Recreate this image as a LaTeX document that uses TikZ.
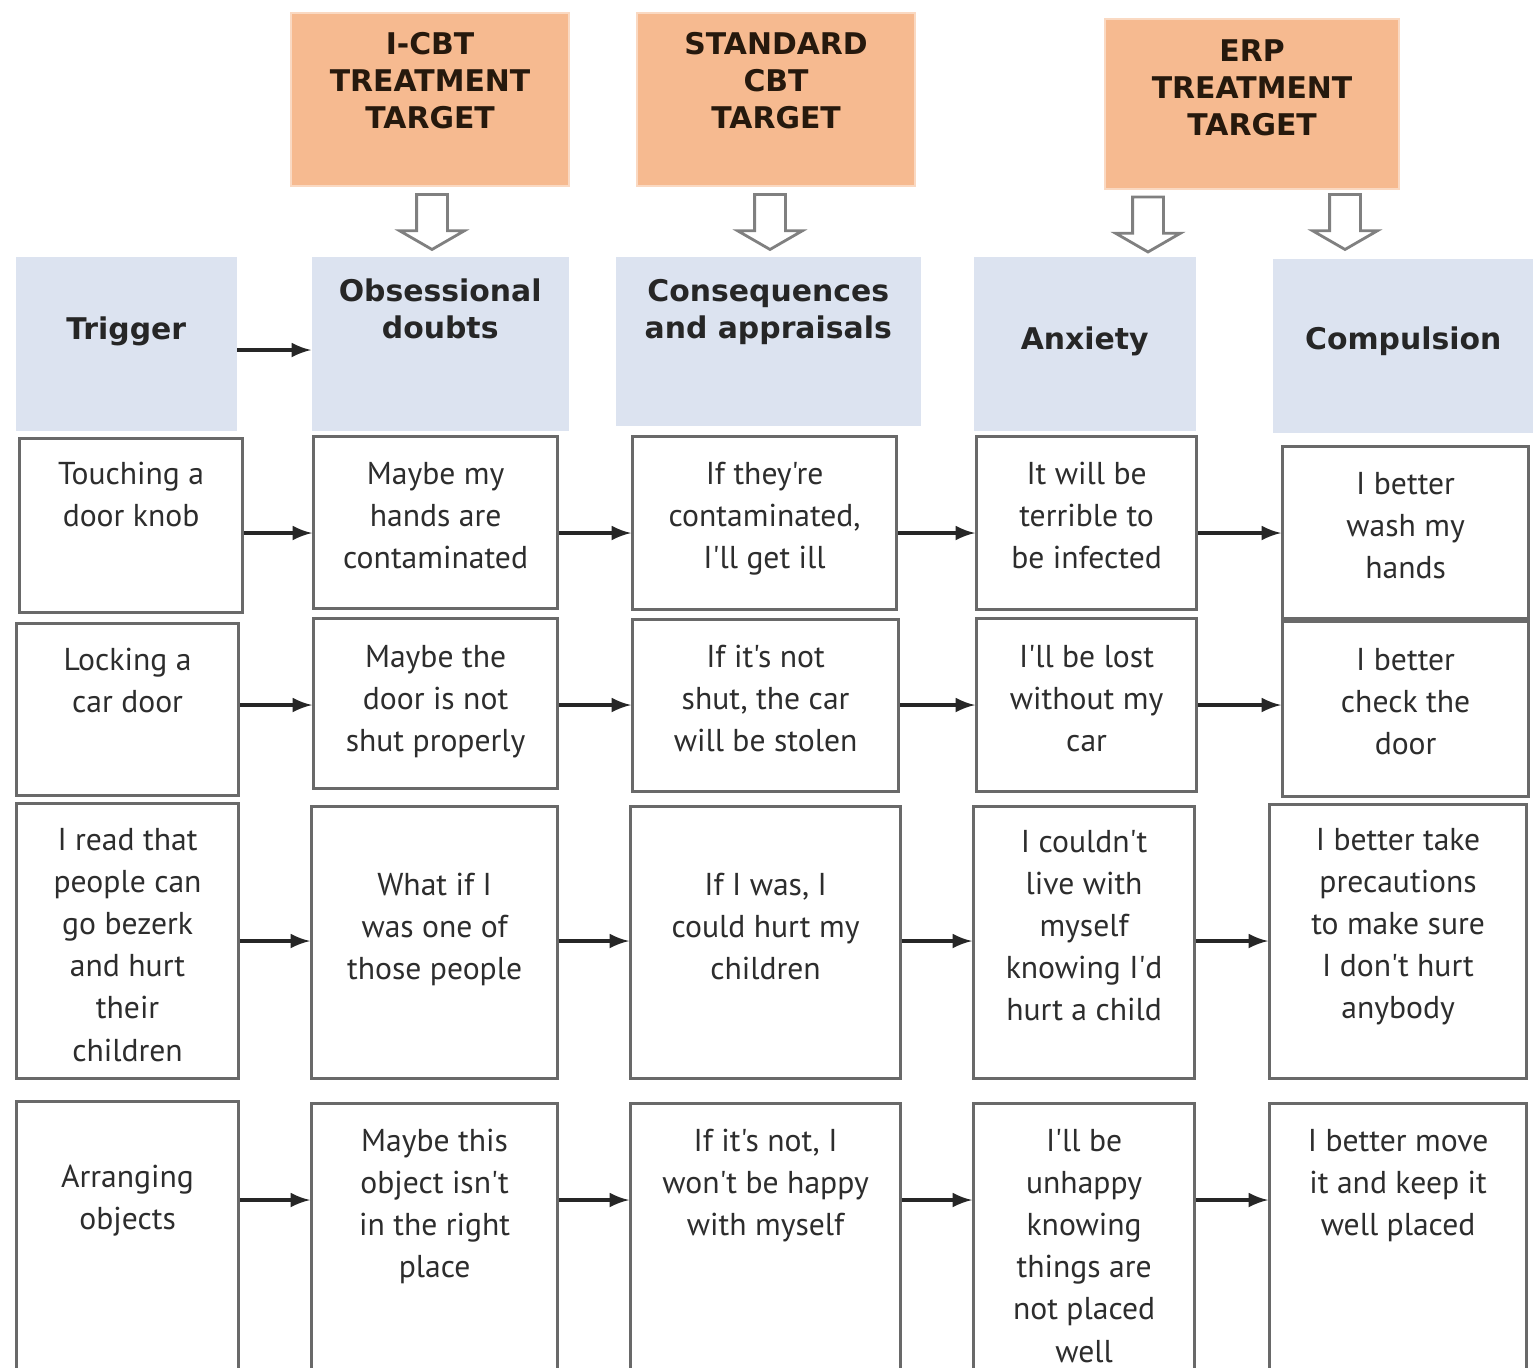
\documentclass[tikz,border=0pt]{standalone}
\usepackage{fontspec}
\usetikzlibrary{arrows,shapes,calc}
\newfontfamily\cellfont{PT Sans}
\newfontfamily\headfont{DejaVu Sans}
\definecolor{peach}{RGB}{246,186,144}
\definecolor{paleblue}{RGB}{220,227,240}
\definecolor{boxline}{RGB}{105,105,105}
\definecolor{ink}{RGB}{45,45,45}
% top aligned lines inside a box of given height
\newcommand{\vtext}[2]{\vbox to #1{\hbox{\begin{tabular}[t]{@{}c@{}}#2\end{tabular}}\vfil}}

\begin{document}
\begin{tikzpicture}
  \tikzstyle{cell}=[draw=boxline,line width=0.9pt,fill=white,inner sep=0pt,anchor=north west,text=ink,font=\cellfont\fontsize{9}{12}\selectfont]
  \tikzstyle{head}=[fill=paleblue,inner sep=0pt,anchor=north west,text=black!85,font=\headfont\bfseries\fontsize{8.5}{10.5}\selectfont]
  \tikzstyle{target}=[fill=peach,draw=peach!55!white,line width=0.6pt,inner sep=0pt,anchor=north west,text=black!80!brown,font=\headfont\bfseries\fontsize{8.5}{10.5}\selectfont]
  \tikzstyle{hollow}=[single arrow,shape border rotate=270,draw=gray,line width=0.8pt,fill=white,inner sep=0.14cm,minimum height=0.55cm,single arrow head extend=0.17cm,single arrow tip angle=120]
  \tikzstyle{flow}=[-latex,line width=0.9pt,draw=black!85]
  \useasboundingbox (0,0) rectangle (15.33,-13.67);

  % treatment targets
  \node[target,minimum width=2.78cm,minimum height=1.73cm] (icbt) at (2.90,-0.12) {\vtext{1.41cm}{I-CBT\\TREATMENT\\TARGET}};
  \node[target,minimum width=2.78cm,minimum height=1.73cm] (scbt) at (6.36,-0.12) {\vtext{1.41cm}{STANDARD\\CBT\\TARGET}};
  \node[target,minimum width=2.94cm,minimum height=1.70cm] (erp) at (11.04,-0.18) {\vtext{1.36cm}{ERP\\TREATMENT\\TARGET}};
  \node[hollow] (down1) at (4.32,-2.175) {};
  \node[hollow] (down2) at (7.70,-2.175) {};
  \node[hollow] (down3) at (11.48,-2.20) {};
  \node[hollow] (down4) at (13.45,-2.175) {};

  % column headings
  \node[head,minimum width=2.21cm,minimum height=1.74cm] (trig) at (0.15,-2.56) {\vtext{0.60cm}{Trigger}};
  \node[head,minimum width=2.57cm,minimum height=1.74cm] (obs) at (3.11,-2.56) {\vtext{1.36cm}{Obsessional\\doubts}};
  \node[head,minimum width=3.05cm,minimum height=1.69cm] (cons) at (6.15,-2.56) {\vtext{1.31cm}{Consequences\\and appraisals}};
  \node[head,minimum width=2.22cm,minimum height=1.74cm] (anx) at (9.73,-2.56) {\vtext{0.40cm}{Anxiety}};
  \node[head,minimum width=2.61cm,minimum height=1.74cm] (comp) at (12.72,-2.58) {\vtext{0.44cm}{Compulsion}};
  \coordinate (h0) at (0,-3.50);
  \draw[flow] (trig.east |- h0) -- (obs.west |- h0);

  % row 1
  \node[cell,minimum width=2.23cm,minimum height=1.74cm] (a1) at (0.18,-4.37) {\vtext{1.42cm}{Touching a\\door knob}};
  \node[cell,minimum width=2.44cm,minimum height=1.72cm] (b1) at (3.12,-4.35) {\vtext{1.36cm}{Maybe my\\hands are\\contaminated}};
  \node[cell,minimum width=2.64cm,minimum height=1.73cm] (c1) at (6.31,-4.35) {\vtext{1.37cm}{If they're\\contaminated,\\I'll get ill}};
  \node[cell,minimum width=2.20cm,minimum height=1.73cm] (d1) at (9.75,-4.35) {\vtext{1.37cm}{It will be\\terrible to\\be infected}};
  \node[cell,minimum width=2.46cm,minimum height=1.72cm] (e1) at (12.81,-4.45) {\vtext{1.36cm}{I better\\wash my\\hands}};
  % row 2
  \node[cell,minimum width=2.22cm,minimum height=1.72cm] (a2) at (0.15,-6.22) {\vtext{1.38cm}{Locking a\\car door}};
  \node[cell,minimum width=2.44cm,minimum height=1.70cm] (b2) at (3.12,-6.17) {\vtext{1.32cm}{Maybe the\\door is not\\shut properly}};
  \node[cell,minimum width=2.66cm,minimum height=1.72cm] (c2) at (6.31,-6.18) {\vtext{1.36cm}{If it's not\\shut, the car\\will be stolen}};
  \node[cell,minimum width=2.20cm,minimum height=1.73cm] (d2) at (9.75,-6.17) {\vtext{1.35cm}{I'll be lost\\without my\\car}};
  \node[cell,minimum width=2.46cm,minimum height=1.75cm] (e2) at (12.81,-6.20) {\vtext{1.37cm}{I better\\check the\\door}};
  % row 3
  \node[cell,minimum width=2.22cm,minimum height=2.75cm] (a3) at (0.15,-8.02) {\vtext{2.41cm}{I read that\\people can\\go bezerk\\and hurt\\their\\children}};
  \node[cell,minimum width=2.46cm,minimum height=2.72cm] (b3) at (3.10,-8.05) {\vtext{1.54cm}{What if I\\was one of\\those people}};
  \node[cell,minimum width=2.70cm,minimum height=2.72cm] (c3) at (6.29,-8.05) {\vtext{1.54cm}{If I was, I\\could hurt my\\children}};
  \node[cell,minimum width=2.21cm,minimum height=2.72cm] (d3) at (9.72,-8.05) {\vtext{2.40cm}{I couldn't\\live with\\myself\\knowing I'd\\hurt a child}};
  \node[cell,minimum width=2.57cm,minimum height=2.74cm] (e3) at (12.68,-8.03) {\vtext{2.42cm}{I better take\\precautions\\to make sure\\I don't hurt\\anybody}};
  % row 4
  \node[cell,minimum width=2.22cm,minimum height=2.90cm] (a4) at (0.15,-11.00) {\vtext{1.78cm}{Arranging\\objects}};
  \node[cell,minimum width=2.46cm,minimum height=2.88cm] (b4) at (3.10,-11.02) {\vtext{2.52cm}{Maybe this\\object isn't\\in the right\\place}};
  \node[cell,minimum width=2.70cm,minimum height=2.88cm] (c4) at (6.29,-11.02) {\vtext{2.52cm}{If it's not, I\\won't be happy\\with myself}};
  \node[cell,minimum width=2.21cm,minimum height=2.88cm] (d4) at (9.72,-11.02) {\vtext{2.52cm}{I'll be\\unhappy\\knowing\\things are\\not placed\\well}};
  \node[cell,minimum width=2.57cm,minimum height=2.88cm] (e4) at (12.68,-11.02) {\vtext{2.52cm}{I better move\\it and keep it\\well placed}};

  % arrows along the rows
  \coordinate (r1) at (0,-5.33);
  \coordinate (r2) at (0,-7.05);
  \coordinate (r3) at (0,-9.41);
  \coordinate (r4) at (0,-12.00);
  \draw[flow] (a1.east |- r1) -- (b1.west |- r1);
  \draw[flow] (b1.east |- r1) -- (c1.west |- r1);
  \draw[flow] (c1.east |- r1) -- (d1.west |- r1);
  \draw[flow] (d1.east |- r1) -- (e1.west |- r1);
  \draw[flow] (a2.east |- r2) -- (b2.west |- r2);
  \draw[flow] (b2.east |- r2) -- (c2.west |- r2);
  \draw[flow] (c2.east |- r2) -- (d2.west |- r2);
  \draw[flow] (d2.east |- r2) -- (e2.west |- r2);
  \draw[flow] (a3.east |- r3) -- (b3.west |- r3);
  \draw[flow] (b3.east |- r3) -- (c3.west |- r3);
  \draw[flow] (c3.east |- r3) -- (d3.west |- r3);
  \draw[flow] (d3.east |- r3) -- (e3.west |- r3);
  \draw[flow] (a4.east |- r4) -- (b4.west |- r4);
  \draw[flow] (b4.east |- r4) -- (c4.west |- r4);
  \draw[flow] (c4.east |- r4) -- (d4.west |- r4);
  \draw[flow] (d4.east |- r4) -- (e4.west |- r4);
\end{tikzpicture}
\end{document}
